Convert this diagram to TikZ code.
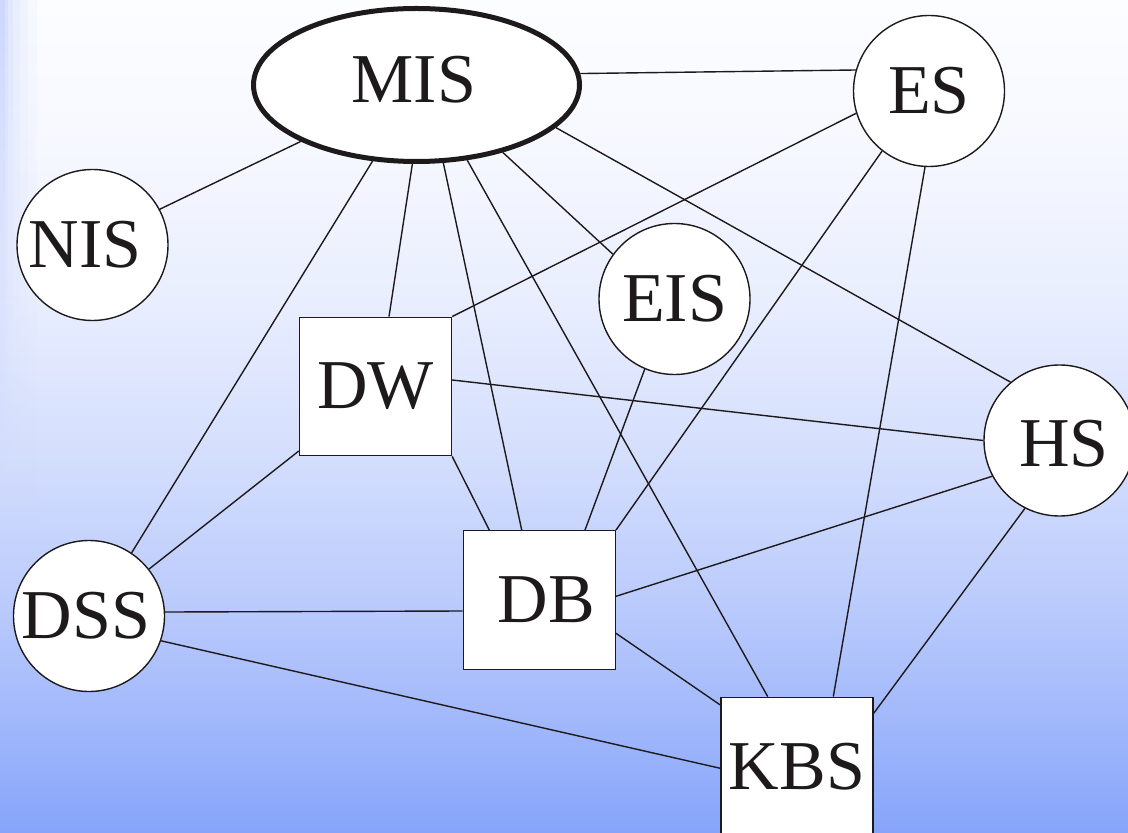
\documentclass[tikz,border=0pt]{standalone}
\usepackage{fontspec}
\setmainfont{Liberation Serif}
\usetikzlibrary{shapes.geometric,fadings}

\definecolor{ink}{RGB}{30,26,27}
\definecolor{stripe}{RGB}{205,216,252}
\definecolor{bgA}{RGB}{134,164,250}
\definecolor{bgB}{RGB}{161,184,251}
\definecolor{bgC}{RGB}{187,203,252}
\definecolor{bgD}{RGB}{213,223,253}
\definecolor{bgE}{RGB}{233,238,254}
\definecolor{bgF}{RGB}{246,248,255}
\definecolor{bgG}{RGB}{252,253,255}
\pgfdeclareverticalshading{slidebg}{100bp}{%
  color(0bp)=(bgA); color(25bp)=(bgA); color(31.78bp)=(bgB);
  color(39bp)=(bgC); color(48bp)=(bgD); color(57bp)=(bgE);
  color(66bp)=(bgF); color(75bp)=(bgG); color(100bp)=(bgG)}

\pgfdeclarelayer{bg}
\pgfdeclarelayer{edges}
\pgfsetlayers{bg,edges,main}

\tikzset{
  hub/.style={ellipse, draw=ink, line width=2.5pt, fill=white,
    minimum width=163pt, minimum height=76.5pt, inner sep=0pt},
  sys/.style={circle, draw=ink, line width=0.7pt, fill=white,
    minimum size=75.5pt, inner sep=0pt},
  store/.style={rectangle, draw=ink, line width=0.7pt, fill=white,
    minimum width=76pt, minimum height=69.25pt, inner sep=0pt},
  tag/.style={font=\fontsize{35}{35}\selectfont, text=ink, inner sep=0pt},
  link/.style={draw=ink, line width=0.7pt},
}

\begin{document}
\begin{tikzpicture}[x=0.5pt, y=-0.5pt]
\useasboundingbox (0,0) rectangle (1128,833);
\clip (0,0) rectangle (1128,833);

% slide background with the banded left edge
\begin{pgfonlayer}{bg}
  \shade[shading=slidebg] (0,0) rectangle (1128,833);
  \fill[stripe, path fading=south] (0,0) rectangle (5,600);
  \fill[stripe, opacity=0.79, path fading=south] (5,0) rectangle (8,600);
  \fill[stripe, opacity=0.57, path fading=south] (8,0) rectangle (13,600);
  \fill[stripe, opacity=0.40, path fading=south] (13,0) rectangle (20,600);
  \fill[stripe, opacity=0.26, path fading=south] (20,0) rectangle (28,600);
  \fill[stripe, opacity=0.13, path fading=south] (28,0) rectangle (37,600);
\end{pgfonlayer}

% systems
\node[hub]   (MIS) at (416.5,85)   [label={[tag, xshift=-1.25pt, yshift=2.5pt]center:MIS}] {};
\node[sys]   (ES)  at (929,91)     [label={[tag]center:ES}] {};
\node[sys]   (NIS) at (92.5,245)   [label={[tag, xshift=-3.75pt]center:NIS}] {};
\node[sys]   (EIS) at (674.5,299)  [label={[tag]center:EIS}] {};
\node[sys]   (HS)  at (1059.5,440.5) [label={[tag, xshift=2.25pt, yshift=-1.75pt]center:HS}] {};
\node[sys]   (DSS) at (89,616)     [label={[tag, xshift=-1.5pt]center:DSS}] {};
\node[store] (DW)  at (375.5,386.5) [label={[tag]center:DW}] {};
\node[store] (DB)  at (539.3,600)  [label={[tag, xshift=3.5pt]center:DB}] {};
\node[store] (KBS) at (797,766.5)  [label={[tag]center:KBS}] {};

% connections
\begin{pgfonlayer}{edges}
  \draw[link] (MIS.4.8)    -- (ES.164.5);
  \draw[link] (MIS.-154.5) -- (NIS.28.7);
  \draw[link] (MIS.-120.5) -- (DSS.56.3);
  \draw[link] (MIS.-93.5)  -- ([xshift=6.75pt]DW.north);
  \draw[link] (MIS.-71.1)  -- ([xshift=-8.8pt]DB.north);
  \draw[link] (MIS.-56)    -- ([xshift=-14.65pt]KBS.north);
  \draw[link] (MIS.-38.7)  -- (EIS.144.4);
  \draw[link] (MIS.-17.2)  -- (HS.130.6);
  \draw[link] (ES.-163.2)  -- (DW.north east);
  \draw[link] (ES.-128.3)  -- (DB.north east);
  \draw[link] (ES.-93)     -- ([xshift=18.15pt]KBS.north);
  \draw[link] (EIS.-113.5) -- ([xshift=22.85pt]DB.north);
  \draw[link] ([yshift=3.25pt]DW.east) -- (HS.180.9);
  \draw[link] (DW.south east) -- ([xshift=-25pt]DB.north);
  \draw[link] ([yshift=-32.25pt]DW.west) -- (DSS.38.25);
  \draw[link] (HS.-152.2)  -- ([yshift=1.85pt]DB.east);
  \draw[link] (HS.-117.1)  -- ([yshift=26.6pt]KBS.east);
  \draw[link] (DSS.3.6)    -- ([yshift=-5.5pt]DB.west);
  \draw[link] (DSS.-19.1)  -- ([yshift=-0.9pt]KBS.west);
  \draw[link] ([yshift=-16.65pt]DB.east) -- ([yshift=30.75pt]KBS.west);
\end{pgfonlayer}
\end{tikzpicture}
\end{document}
